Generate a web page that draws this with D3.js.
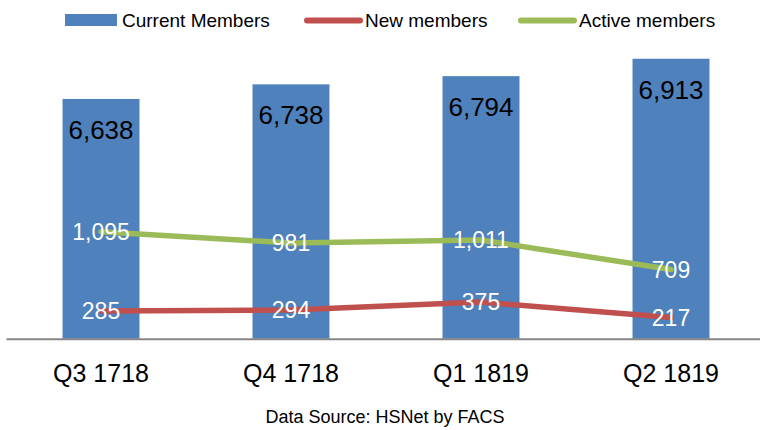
<!DOCTYPE html>
<html>
<head>
<meta charset="utf-8">
<script src="https://cdn.jsdelivr.net/npm/d3@7"></script>
<style>
  body { margin: 0; background: #fff; }
  svg { display: block; font-family: "Liberation Sans", Arial, sans-serif; }
</style>
</head>
<body>
<div id="chart"></div>
<script>
var quarters = ["Q3 1718", "Q4 1718", "Q1 1819", "Q2 1819"];
var currentMembers = [6638, 6738, 6794, 6913];
var newMembers = [285, 294, 375, 217];
var activeMembers = [1095, 981, 1011, 709];
var seriesNames = ["Current Members", "New members", "Active members"];

var w = 760;
var h = 430;
var blue = "#4F81BD", red = "#C0504D", green = "#9BBB59";

var svg = d3.select("#chart")
            .append("svg")
            .attr("width", w)
            .attr("height", h);

var xScale = d3.scaleBand()
  .domain(quarters)
  .range([6, 766])
  .paddingInner(0.595)
  .paddingOuter(0.2975);

// bars on the primary axis (not starting at zero), lines on a hidden secondary axis
var yBar = d3.scaleLinear().domain([5000, 7000]).range([338.7, 46]);
var yLine = d3.scaleLinear().domain([0, 3000]).range([338.7, 46]);

var fmt = d3.format(",");

svg.selectAll("rect.bar")
  .data(currentMembers)
  .enter()
  .append("rect")
  .attr("class", "bar")
  .attr("x", function(d, i) { return xScale(quarters[i]); })
  .attr("y", function(d) { return yBar(d); })
  .attr("width", xScale.bandwidth())
  .attr("height", function(d) { return yBar(5000) - yBar(d); })
  .style("fill", blue);

svg.selectAll("text.barlabel")
  .data(currentMembers)
  .enter()
  .append("text")
  .attr("class", "barlabel")
  .attr("x", function(d, i) { return xScale(quarters[i]) + xScale.bandwidth() / 2; })
  .attr("y", function(d) { return yBar(d) + 40; })
  .attr("text-anchor", "middle")
  .style("font-size", "26px")
  .style("fill", "#000")
  .text(function(d) { return fmt(d); });

var xAxis = d3.axisBottom(xScale).tickSizeInner(0).tickSizeOuter(0);
var xAxisGroup = svg.append("g")
  .attr("transform", "translate(0," + 338.7 + ")")
  .call(xAxis);
xAxisGroup.select(".domain").attr("stroke", "#868686").attr("stroke-width", 2);
xAxisGroup.selectAll("text")
  .attr("y", 43)
  .attr("dy", 0)
  .style("font-size", "25px")
  .style("font-family", "Liberation Sans, Arial, sans-serif")
  .style("fill", "#000");

var line = d3.line()
  .x(function(d, i) { return xScale(quarters[i]) + xScale.bandwidth() / 2; })
  .y(function(d) { return yLine(d); });

[[activeMembers, green], [newMembers, red]].forEach(function(s) {
  svg.append("path")
    .datum(s[0])
    .attr("d", line)
    .attr("fill", "none")
    .attr("stroke", s[1])
    .attr("stroke-width", 5.5)
    .attr("stroke-linecap", "round")
    .attr("stroke-linejoin", "round");
});

[activeMembers, newMembers].forEach(function(arr) {
  svg.append("g").selectAll("text")
    .data(arr)
    .enter()
    .append("text")
    .attr("x", function(d, i) { return xScale(quarters[i]) + xScale.bandwidth() / 2; })
    .attr("y", function(d) { return yLine(d); })
    .attr("dy", "0.36em")
    .attr("text-anchor", "middle")
    .style("font-size", "23px")
    .style("fill", "#fff")
    .text(function(d) { return fmt(d); });
});

// legend
var legendX = [65, 305, 519];
var legend = svg.append("g");
legend.append("rect")
  .attr("x", legendX[0]).attr("y", 14)
  .attr("width", 52).attr("height", 12)
  .style("fill", blue);
[[1, red], [2, green]].forEach(function(s) {
  legend.append("line")
    .attr("x1", legendX[s[0]] + 2).attr("x2", legendX[s[0]] + 55)
    .attr("y1", 20.5).attr("y2", 20.5)
    .attr("stroke", s[1])
    .attr("stroke-width", 6)
    .attr("stroke-linecap", "round");
});
legend.selectAll("text")
  .data(seriesNames)
  .enter()
  .append("text")
  .attr("x", function(d, i) { return legendX[i] + (i === 0 ? 57 : 60); })
  .attr("y", 27)
  .style("font-size", "19px")
  .style("fill", "#000")
  .text(function(d) { return d; });

svg.append("text")
  .attr("x", 385)
  .attr("y", 423)
  .attr("text-anchor", "middle")
  .style("font-size", "18px")
  .style("fill", "#000")
  .text("Data Source: HSNet by FACS");
</script>
</body>
</html>
